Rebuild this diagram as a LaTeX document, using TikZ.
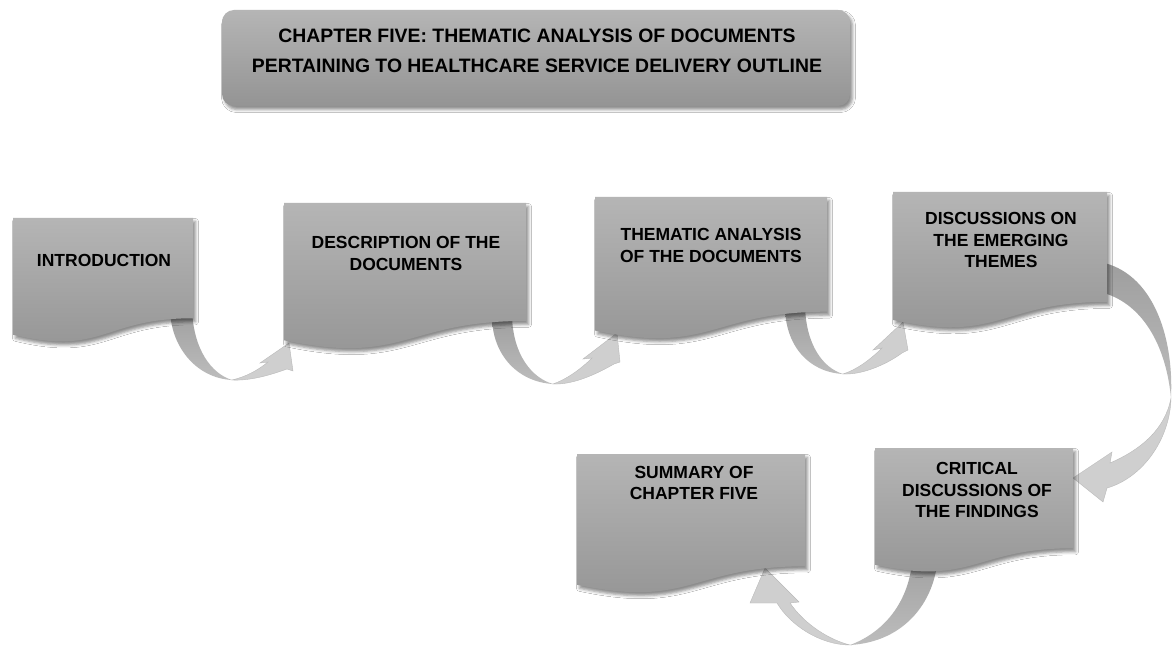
\documentclass[tikz,border=0pt]{standalone}
\usepackage{fontspec}
\setmainfont{Liberation Sans}
\usetikzlibrary{shadows.blur}

\tikzset{
  boxfill/.style={top color=black!29, bottom color=black!42},
  softshadow/.style={blur shadow={shadow xshift=2.5pt, shadow yshift=-3.5pt,
      shadow blur radius=3pt, shadow opacity=45}},
  boxtext/.style={font=\fontsize{17.5}{21.5}\selectfont\bfseries,
      align=center, text=black, inner sep=0pt},
  titletext/.style={font=\fontsize{19.4}{30}\selectfont\bfseries,
      align=center, text=black, inner sep=0pt},
  ribbonback/.style={top color=black!38, bottom color=black!26},
  ribbonfront/.style={fill=black!19, draw=black!27, line width=0.4pt},
}

% flowchart "document" shape: #1 options, (#2,#3) top-left corner, #4 width, #5 height
\newcommand\docshape[5]{%
  \path[#1] (#2,#3) -- ({#2+#4},#3) -- ({#2+#4},{#3+0.802*#5})
    .. controls ({#2+0.5*#4},{#3+0.802*#5}) and ({#2+0.5*#4},{#3+1.1075*#5})
    .. (#2,{#3+0.934*#5}) -- cycle;}

\begin{document}
\begin{tikzpicture}[x=1pt, y=-1pt]
\useasboundingbox (0,0) rectangle (1176,647);
\fill[white] (0,0) rectangle (1176,647);

% ---- curved ribbon arrows (drawn first so their tails sit behind the boxes)
% introduction -> description
\path[ribbonback] (170,308) .. controls (170,345) and (195,378) .. (232,380)
  .. controls (212,374) and (193,350) .. (192,308) -- cycle;
\path[ribbonfront] (232,380) .. controls (252,381) and (273,374) .. (287,369)
  -- (293,371) -- (289,343) -- (260,363) -- (268,362)
  .. controls (257,371) and (245,377) .. (232,380) -- cycle;

% description -> thematic analysis
\path[ribbonback] (492,316) .. controls (492,355) and (518,382) .. (553,384)
  .. controls (532,378) and (513,355) .. (512,316) -- cycle;
\path[ribbonfront] (553,384) .. controls (575,385) and (600,372) .. (614,364)
  -- (620,362) -- (617,333) -- (583,359) -- (592,358)
  .. controls (580,370) and (565,380) .. (553,384) -- cycle;

% thematic analysis -> discussions
\path[ribbonback] (785,306) .. controls (785,345) and (808,372) .. (843,374)
  .. controls (823,368) and (806,345) .. (805,306) -- cycle;
\path[ribbonfront] (843,374) .. controls (865,375) and (890,362) .. (902,353)
  -- (908,350) -- (903,322) -- (873,350) -- (882,348)
  .. controls (870,360) and (856,370) .. (843,374) -- cycle;

% discussions -> critical discussions
\path[ribbonback] (1100,262) .. controls (1152,272) and (1174,335) .. (1171,398)
  .. controls (1166,345) and (1142,302) .. (1100,292) -- cycle;
\path[ribbonfront] (1171,398) .. controls (1170,440) and (1142,478) .. (1107,488)
  -- (1103,502) -- (1073,478) -- (1112,452) -- (1110,463)
  .. controls (1140,450) and (1165,430) .. (1171,398) -- cycle;

% critical discussions -> summary
\path[ribbonback] (913,550) -- (938,550) .. controls (938,600) and (905,642) .. (850,645)
  .. controls (885,632) and (912,600) .. (913,550) -- cycle;
\path[ribbonfront] (850,645) .. controls (820,645) and (790,625) .. (777,603)
  -- (750,603) -- (765,568) -- (799,602) -- (790,603)
  .. controls (805,625) and (830,640) .. (850,645) -- cycle;

% ---- title banner
\path[boxfill, softshadow, rounded corners=12pt] (222,10) rectangle (850,106);
\node[titletext] (title) at (537,51)
  {CHAPTER FIVE: THEMATIC ANALYSIS OF DOCUMENTS\\
   PERTAINING TO HEALTHCARE SERVICE DELIVERY OUTLINE};

% ---- document boxes
\docshape{boxfill, softshadow}{13}{218}{180}{125}
\docshape{boxfill, softshadow}{284}{203}{242}{147}
\docshape{boxfill, softshadow}{595}{197}{232}{143}
\docshape{boxfill, softshadow}{893}{192}{214}{137}
\docshape{boxfill, softshadow}{577}{454}{228}{140}
\docshape{boxfill, softshadow}{875}{448}{198}{125}

\node[boxtext] (intro) at (104,260) {INTRODUCTION};
\node[boxtext] (descr) at (406,253.5) {DESCRIPTION OF THE\\DOCUMENTS};
\node[boxtext] (thema) at (711,245.5) {THEMATIC ANALYSIS\\OF THE DOCUMENTS};
\node[boxtext] (discu) at (1001,240) {DISCUSSIONS ON\\THE EMERGING\\THEMES};
\node[boxtext] (summa) at (694,483) {SUMMARY OF\\CHAPTER FIVE};
\node[boxtext] (criti) at (977,490) {CRITICAL\\DISCUSSIONS OF\\THE FINDINGS};
\end{tikzpicture}
\end{document}
